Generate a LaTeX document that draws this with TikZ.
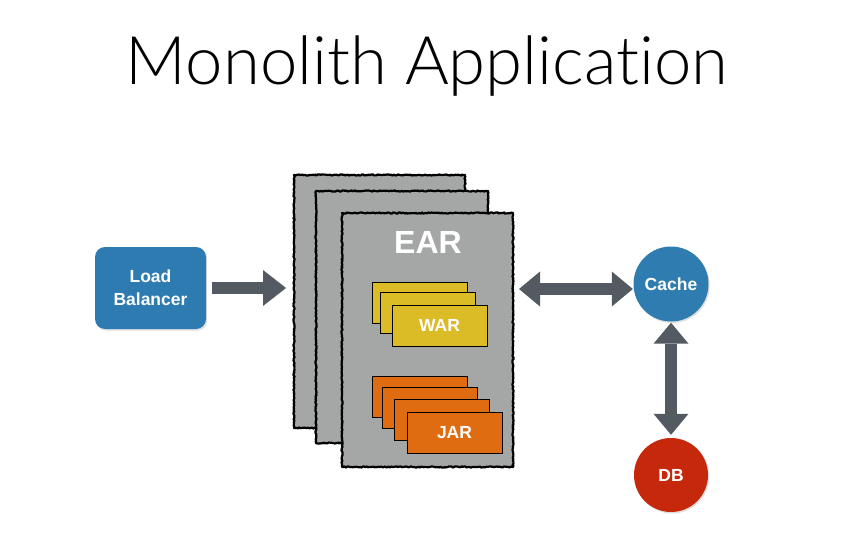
\documentclass[tikz,border=0pt]{standalone}
\usepackage{fontspec}
\setmainfont{Liberation Sans}
\newfontfamily\titlefont[Ligatures={NoCommon,NoRare,NoContextual}]{Lato Light}
\usetikzlibrary{arrows.meta,decorations.pathmorphing,shadows}
\definecolor{lbblue}{HTML}{2D7BB0}
\definecolor{cacheblue}{HTML}{2F7DB0}
\definecolor{dbred}{HTML}{C6280B}
\definecolor{eargray}{HTML}{A5A7A6}
\definecolor{wargold}{HTML}{DBBB26}
\definecolor{jarorange}{HTML}{E06C12}
\definecolor{arrowgray}{HTML}{545A61}
\begin{document}
\begin{tikzpicture}[x=1pt,y=-1pt,
  lbl/.style={text=white,font=\bfseries\fontsize{17.5}{23}\selectfont},
  earpage/.style={fill=eargray, draw=black, line width=2.2pt, line join=round,
    inner sep=0pt, outer sep=0pt, anchor=north west,
    decorate, decoration={random steps,segment length=1.3pt,amplitude=0.6pt}},
  card/.style={draw=black, line width=0.8pt, inner sep=0pt, outer sep=0pt,
    anchor=north west, minimum width=95pt, minimum height=41pt,
    drop shadow={opacity=0.2,shadow xshift=1pt,shadow yshift=-1pt}},
  warcard/.style={card, fill=wargold},
  jarcard/.style={card, fill=jarorange},
  softshadow/.style={drop shadow={opacity=0.25,shadow xshift=1.2pt,shadow yshift=-1.5pt}},
  blockarrow/.style={draw=arrowgray, line width=12pt,
    -{Triangle[width=36pt,length=23pt,line width=0pt]}},
  dblarrow/.style={draw=arrowgray, line width=12pt,
    {Triangle[width=35pt,length=21pt,line width=0pt]}-{Triangle[width=35pt,length=21pt,line width=0pt]}}
]
\useasboundingbox[fill=white] (0,0) rectangle (853,540);

% title
\node[anchor=base, inner sep=0pt, font=\titlefont\fontsize{67}{80}\selectfont] (title) at (427,85) {Monolith Application};

% load balancer
\node[fill=lbblue, rounded corners=10pt, minimum width=111pt, minimum height=82pt,
  align=center, lbl, softshadow] (lb) at (150.5,288) {Load\\Balancer};

% EAR pages
\node[earpage, minimum width=171pt, minimum height=253pt] (back) at (294,175) {};
\node[earpage, minimum width=172pt, minimum height=252pt] (mid) at (316,191) {};
\node[earpage, minimum width=171pt, minimum height=254pt] (front) at (342,213) {};
\node[text=white, font=\bfseries\fontsize{32}{36}\selectfont, inner sep=0pt] (earlbl) at (428,242) {EAR};

% WAR cards
\node[warcard] (war1) at (372,282) {};
\node[warcard] (war2) at (380,292) {};
\node[warcard, lbl] (war3) at (392,305) {WAR};

% JAR cards
\node[jarcard] (jar1) at (372,376) {};
\node[jarcard] (jar2) at (382,387) {};
\node[jarcard] (jar3) at (394,399) {};
\node[jarcard, lbl] (jar4) at (407,412) {JAR};

% cache and db
\node[circle, fill=cacheblue, minimum size=75pt, inner sep=0pt, lbl, softshadow] (cache) at (671,284) {Cache};
\node[circle, fill=dbred, minimum size=74pt, inner sep=0pt, lbl, softshadow] (db) at (671,475) {DB};

% connectors
\coordinate (lbend) at (lb.east -| back.west);
\draw[blockarrow, shorten <=6pt, shorten >=8pt] (lb.east) -- (lbend);

\coordinate (cin) at ([yshift=-5pt]cache.west);
\coordinate (eout) at (front.east |- cin);
\draw[dblarrow, shorten <=6pt, shorten >=0.5pt] (eout) -- (cin);

\draw[dblarrow, shorten <=1pt, shorten >=3pt] (cache.south) -- (db.north);
\end{tikzpicture}
\end{document}
